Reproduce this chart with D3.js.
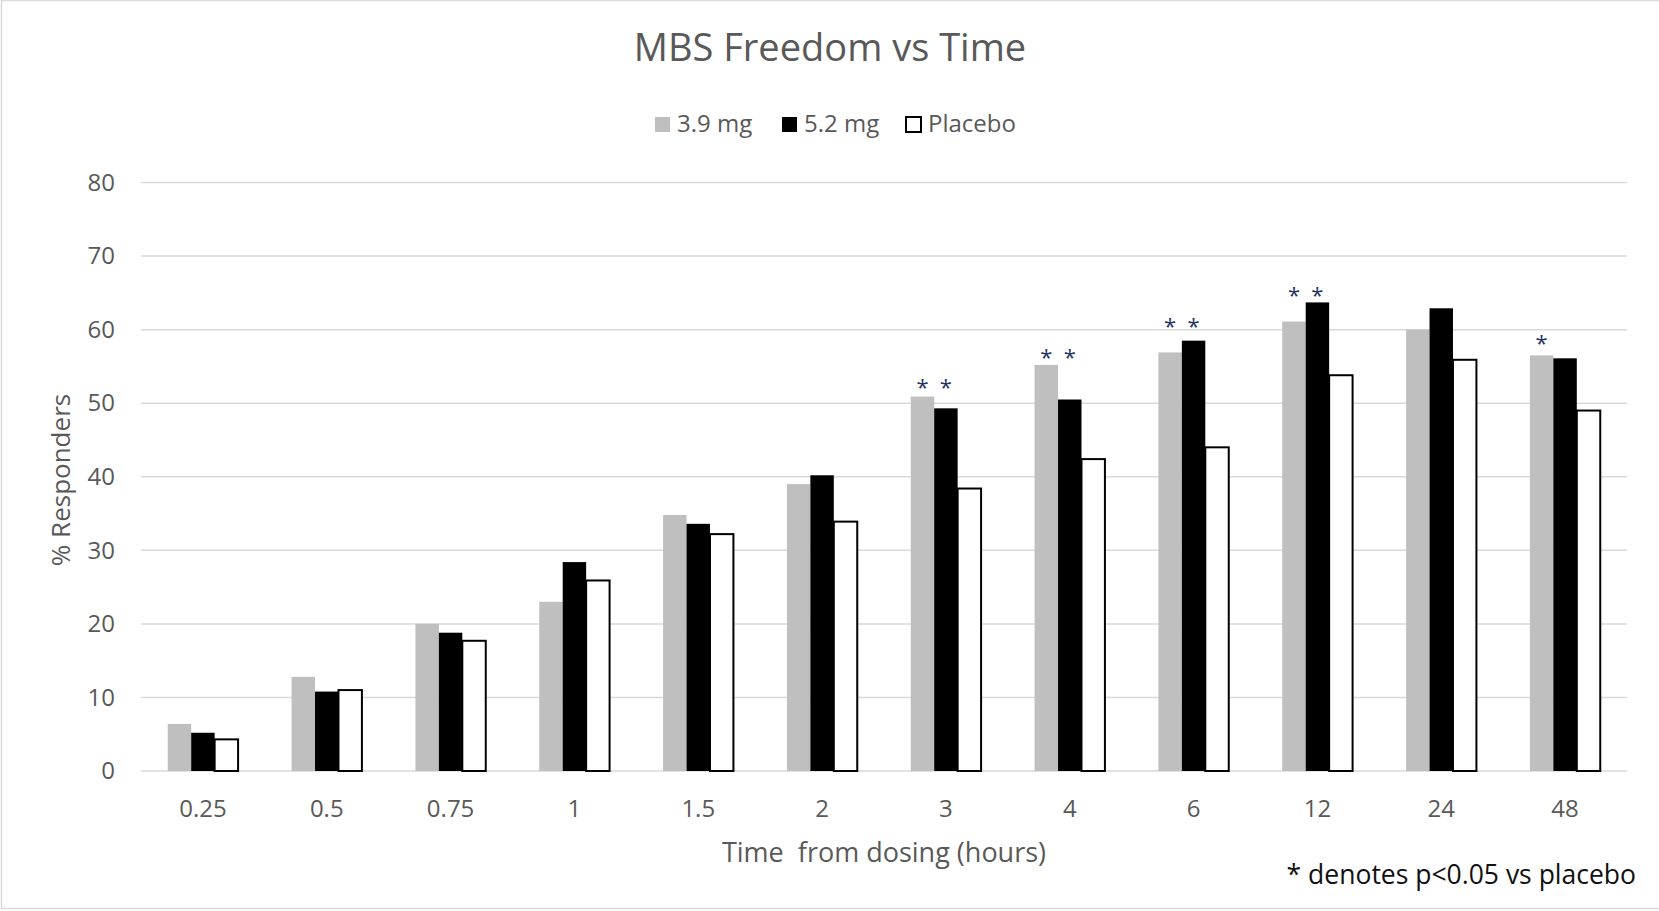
<!DOCTYPE html>
<html>
<head>
<meta charset="utf-8">
<script src="https://cdn.jsdelivr.net/npm/d3@7"></script>
<style>
  html, body { margin: 0; padding: 0; background: #fff; }
  svg { display: block; }
  text { font-family: "Open Sans", sans-serif; }
</style>
</head>
<body>
<svg id="chart" width="1659" height="911"></svg>
<script>
const categories = ["0.25", "0.5", "0.75", "1", "1.5", "2", "3", "4", "6", "12", "24", "48"];
const seriesNames = ["3.9 mg", "5.2 mg", "Placebo"];
const values39 = [6.4, 12.8, 20.0, 23.0, 34.8, 39.0, 50.9, 55.2, 56.9, 61.1, 60.0, 56.5];
const values52 = [5.2, 10.8, 18.8, 28.4, 33.6, 40.2, 49.3, 50.5, 58.5, 63.7, 62.9, 56.1];
const valuesPlacebo = [4.3, 11.0, 17.7, 25.9, 32.2, 33.9, 38.4, 42.4, 44.0, 53.8, 55.9, 49.0];
const yTicks = [0, 10, 20, 30, 40, 50, 60, 70, 80];
// significance markers: category, series index, level (in % units)
const starCats = ["3", "3", "4", "4", "6", "6", "12", "12", "48"];
const starSeries = [0, 1, 0, 1, 0, 1, 0, 1, 0];
const starLevels = [52.8, 52.8, 56.8, 56.8, 61.1, 61.1, 65.2, 65.2, 58.7];

const svg = d3.select("#chart");
const plot = { left: 141, right: 1627, top: 182.5, bottom: 771 };

// chart border
svg.append("rect").attr("x", 1.5).attr("y", 0.5).attr("width", 1700).attr("height", 908)
  .attr("fill", "#fff").attr("stroke", "#d9d9d9").attr("stroke-width", 1.5);

const x0 = d3.scaleBand().domain(categories).range([plot.left, plot.right])
  .paddingInner(0.432).paddingOuter(0.216);
const x1 = d3.scaleBand().domain(seriesNames).range([0, x0.bandwidth()]).padding(0);
const y = d3.scaleLinear().domain([0, 80]).range([plot.bottom, plot.top]);

// gridlines
svg.append("g").selectAll("line").data(yTicks).join("line")
  .attr("x1", plot.left).attr("x2", plot.right)
  .attr("y1", d => y(d)).attr("y2", d => y(d))
  .attr("stroke", "#d9d9d9").attr("stroke-width", 1.5);

// y axis labels
const yAxis = d3.axisLeft(y).tickValues(yTicks).tickSize(0).tickPadding(0);
const gy = svg.append("g").attr("transform", `translate(115,0)`).call(yAxis);
gy.select(".domain").remove();
gy.selectAll("text").attr("font-size", 24).attr("fill", "#595959")
  .attr("font-family", "Open Sans, sans-serif");

// x axis labels
const xAxis = d3.axisBottom(x0).tickSize(0).tickPadding(0);
const gx = svg.append("g").attr("transform", `translate(0,800)`).call(xAxis);
gx.select(".domain").remove();
gx.selectAll("text").attr("font-size", 24).attr("fill", "#595959")
  .attr("font-family", "Open Sans, sans-serif").attr("dy", "0.71em");

// bars
const data = categories.map((c, i) => ({
  cat: c,
  vals: [values39[i], values52[i], valuesPlacebo[i]]
}));
const fills = ["#bfbfbf", "#000000", "#ffffff"];
const groups = svg.append("g").selectAll("g").data(data).join("g")
  .attr("transform", d => `translate(${x0(d.cat)},0)`);
groups.selectAll("rect").data(d => d.vals.map((v, k) => ({ v, k }))).join("rect")
  .attr("x", d => x1(seriesNames[d.k]))
  .attr("width", x1.bandwidth())
  .attr("y", d => y(d.v))
  .attr("height", d => y(0) - y(d.v))
  .attr("fill", d => fills[d.k])
  .attr("stroke", d => d.k === 2 ? "#000" : "none")
  .attr("stroke-width", 2);

// significance stars
svg.append("g").selectAll("text").data(starCats.map((c, i) => ({ c, s: starSeries[i], l: starLevels[i] })))
  .join("text")
  .attr("x", d => x0(d.c) + x1(seriesNames[d.s]) + x1.bandwidth() / 2)
  .attr("y", d => y(d.l) + 12)
  .attr("text-anchor", "middle")
  .attr("font-size", 22)
  .attr("fill", "#25335f")
  .text("*");

// title
svg.append("text").attr("x", 830).attr("y", 60.5).attr("text-anchor", "middle")
  .attr("font-size", 38).attr("fill", "#595959").text("MBS Freedom vs Time");

// legend
const legendX = [654, 781, 905];
const legend = svg.append("g").selectAll("g").data(seriesNames).join("g")
  .attr("transform", (d, i) => `translate(${legendX[i]},0)`);
legend.append("rect").attr("x", 1).attr("y", 117).attr("width", 15).attr("height", 15)
  .attr("fill", (d, i) => fills[i])
  .attr("stroke", (d, i) => i === 2 ? "#000" : "none").attr("stroke-width", 2);
legend.append("text").attr("x", 23).attr("y", 132).attr("font-size", 24)
  .attr("fill", "#595959").text(d => d);

// axis titles
svg.append("text").attr("transform", "translate(70,480) rotate(-90)")
  .attr("text-anchor", "middle").attr("font-size", 26).attr("fill", "#595959")
  .text("% Responders");
svg.append("text").attr("x", 884).attr("y", 862).attr("text-anchor", "middle")
  .attr("font-size", 27).attr("fill", "#595959").style("white-space", "pre")
  .text("Time  from dosing (hours)");

// footnote
svg.append("text").attr("x", 1636).attr("y", 884).attr("text-anchor", "end")
  .attr("font-family", "Lato, sans-serif").attr("font-size", 26.5).attr("fill", "#111")
  .text("* denotes p<0.05 vs placebo");
</script>
</body>
</html>
